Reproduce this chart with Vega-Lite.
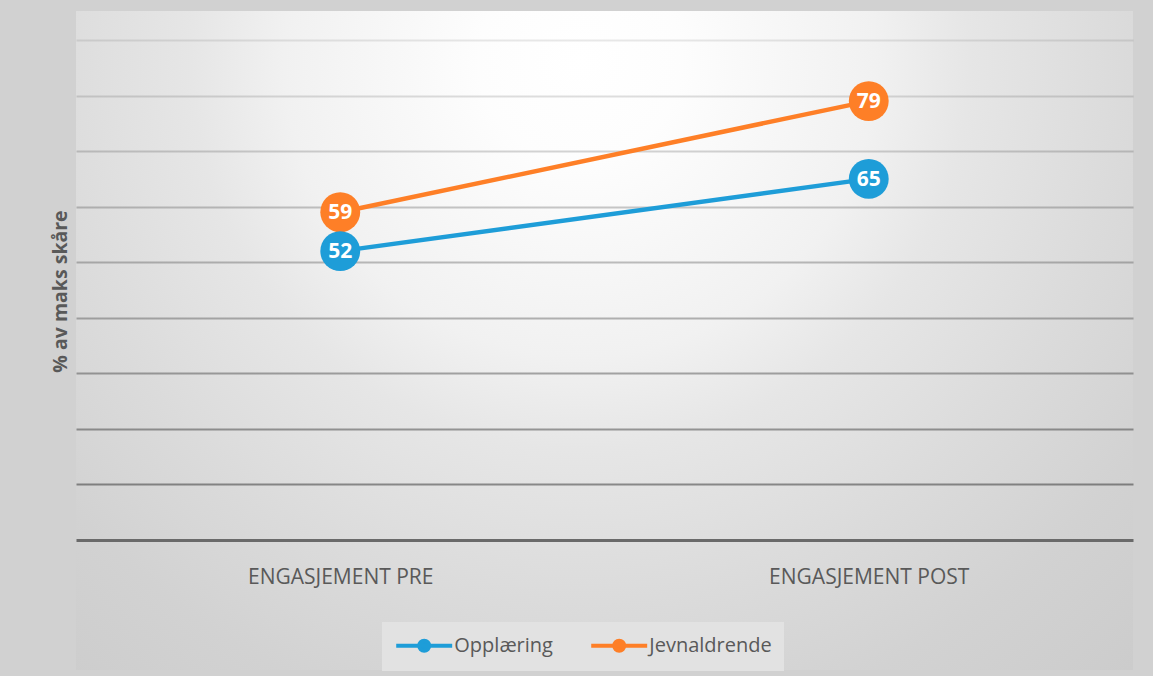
{
  "$schema": "https://vega.github.io/schema/vega-lite/v6.json",
  "width": 1057,
  "height": 659,
  "autosize": {"type": "none"},
  "padding": {"left": 76, "top": 11, "right": 20, "bottom": 6},
  "background": "#d1d1d1",
  "view": {
    "stroke": null,
    "fill": {
      "gradient": "radial",
      "x1": 0.477, "y1": 0.235, "r1": 0,
      "x2": 0.477, "y2": 0.235, "r2": 0.8,
      "stops": [
        {"offset": 0, "color": "#ffffff"},
        {"offset": 0.12, "color": "#fdfdfd"},
        {"offset": 0.35, "color": "#f1f1f1"},
        {"offset": 0.46, "color": "#e6e6e6"},
        {"offset": 0.64, "color": "#dbdbdb"},
        {"offset": 0.8, "color": "#d2d2d2"},
        {"offset": 1, "color": "#cbcbcb"}
      ]
    }
  },
  "data": {
    "values": [
      {"phase": "ENGASJEMENT PRE", "group": "Jevnaldrende", "value": 59},
      {"phase": "ENGASJEMENT POST", "group": "Jevnaldrende", "value": 79},
      {"phase": "ENGASJEMENT PRE", "group": "Opplæring", "value": 52},
      {"phase": "ENGASJEMENT POST", "group": "Opplæring", "value": 65}
    ]
  },
  "encoding": {
    "x": {
      "field": "phase",
      "type": "nominal",
      "sort": ["ENGASJEMENT PRE", "ENGASJEMENT POST"],
      "scale": {"type": "point", "padding": 0.5},
      "axis": {
        "title": null,
        "orient": "bottom",
        "offset": -130,
        "domain": true,
        "domainColor": "#6a6a6a",
        "domainWidth": 3,
        "ticks": false,
        "grid": false,
        "labelPadding": 26,
        "labelFont": "Open Sans",
        "labelFontSize": 21,
        "labelLimit": 500,
        "labelColor": "#595959",
        "labelAngle": 0
      }
    },
    "y": {
      "field": "value",
      "type": "quantitative",
      "scale": {"domain": [-23.4, 95.22], "nice": false, "zero": false},
      "axis": {
        "title": "% av maks skåre",
        "titleFont": "Open Sans",
        "titleFontSize": 19.5,
        "titleFontWeight": "bold",
        "titleColor": "#595959",
        "titlePadding": 6,
        "titleY": 280,
        "labels": false,
        "ticks": false,
        "domain": false,
        "values": [10, 20, 30, 40, 50, 60, 70, 80, 90],
        "grid": true,
        "gridColor": "#000000",
        "gridWidth": 1.8,
        "gridOpacity": {
          "condition": [
            {"test": "datum.value == 10", "value": 0.40},
            {"test": "datum.value == 20", "value": 0.36},
            {"test": "datum.value == 30", "value": 0.32},
            {"test": "datum.value == 40", "value": 0.28},
            {"test": "datum.value == 50", "value": 0.245},
            {"test": "datum.value == 60", "value": 0.21},
            {"test": "datum.value == 70", "value": 0.17},
            {"test": "datum.value == 80", "value": 0.13}
          ],
          "value": 0.09
        }
      }
    },
    "color": {
      "field": "group",
      "type": "nominal",
      "scale": {
        "domain": ["Opplæring", "Jevnaldrende"],
        "range": ["#1e9dd8", "#fe7f27"]
      },
      "legend": {
        "title": null,
        "orient": "none",
        "direction": "horizontal",
        "legendX": 306,
        "legendY": 611,
        "padding": 12,
        "fillColor": "#e2e2e2",
        "strokeColor": null,
        "columnPadding": 30,
        "labelFont": "Open Sans",
        "labelFontSize": 20,
        "labelColor": "#595959",
        "symbolType": "M-3,0L3,0M0.54,0A0.54,0.54,0,1,1,-0.54,0A0.54,0.54,0,1,1,0.54,0Z",
        "symbolSize": 348,
        "symbolOffset": 18.7,
        "labelOffset": 18.6,
        "symbolStrokeWidth": 4,
        "encode": {
          "symbols": {
            "update": {
              "fill": {"scale": "color", "field": "value"},
              "stroke": {"scale": "color", "field": "value"},
              "strokeWidth": {"value": 4},
              "opacity": {"value": 1}
            }
          }
        }
      }
    }
  },
  "layer": [
    {
      "mark": {"type": "line", "strokeWidth": 4.5}
    },
    {
      "mark": {"type": "point", "shape": "circle", "filled": true, "size": 1590, "opacity": 1}
    },
    {
      "mark": {
        "type": "text",
        "color": "#ffffff",
        "font": "Open Sans",
        "fontSize": 21,
        "fontWeight": "bold",
        "align": "center",
        "baseline": "middle",
        "dy": 1
      },
      "encoding": {
        "text": {"field": "value", "type": "quantitative"},
        "color": {"value": "#ffffff"}
      }
    }
  ]
}
